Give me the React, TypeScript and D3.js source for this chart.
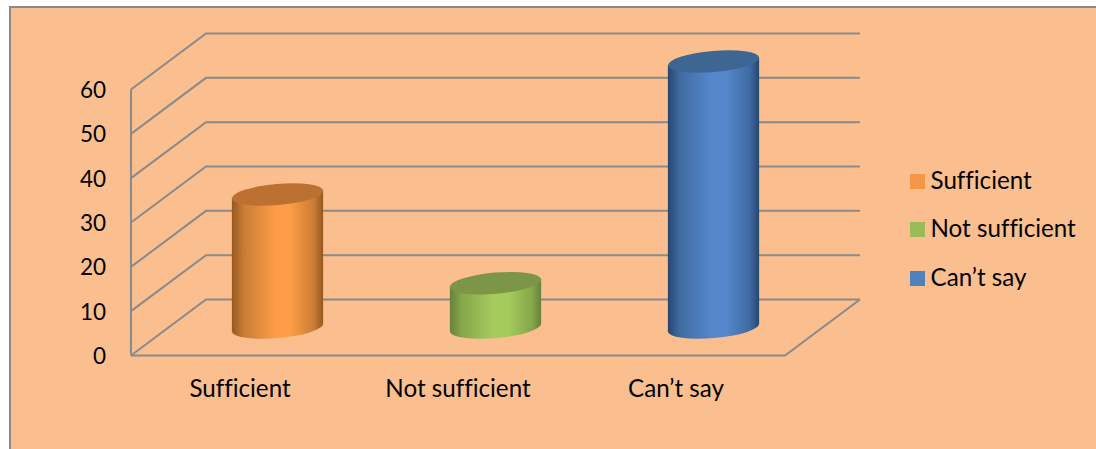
import React from "react";
import * as d3 from "d3";

const categories = ["Sufficient", "Not sufficient", "Can’t say"];
const values = [30, 10, 60];
const yTicks = [0, 10, 20, 30, 40, 50, 60];
const swatchColors = ["#F79646", "#9BBB59", "#4F81BD"];
const bodyEdgeColors = ["#96591F", "#67823A", "#28466F"];
const bodyShoulderColors = ["#C97C36", "#86A64A", "#3F6BA1"];
const bodyMidColors = ["#FD9D47", "#A6CB5D", "#5587CC"];
const capColors = ["#BC7133", "#7C9546", "#3E6692"];

const WIDTH = 1096;
const HEIGHT = 449;
const FONT = "Lato, 'Open Sans', sans-serif";
const GRID = "#8A8A8A";

// Oblique projection: how far the back wall sits from the front plane.
const DEPTH_X = 75;
const DEPTH_Y = 56;

const y = d3.scaleLinear().domain([0, 60]).range([355.5, 89.5]);
const x = d3.scaleBand<string>().domain(categories).range([131, 785]);

const RX = 45.8;
const RY = 10.6;
const TILT = -5;
const tiltRad = (TILT * Math.PI) / 180;

function cylinderBody(cx: number, baseY: number, topY: number) {
  const dx = RX * Math.cos(tiltRad);
  const dy = RX * Math.sin(tiltRad);
  return [
    `M${cx - dx},${topY - dy}`,
    `L${cx + dx},${topY + dy}`,
    `L${cx + dx},${baseY + dy}`,
    `A${RX},${RY} ${TILT} 0 1 ${cx - dx},${baseY - dy}`,
    "Z",
  ].join(" ");
}

export default function App() {
  const wallLine = d3.line();
  const right = x.range()[1];
  const left = x.range()[0];
  return (
    <svg
      width={WIDTH}
      height={HEIGHT}
      style={{ position: "absolute", left: 0, top: 0, background: "#fff", fontVariantLigatures: "none" }}
      fontFamily={FONT}
    >
      <defs>
        {categories.map((c, i) => (
          <linearGradient key={c} id={`body-${i}`} x1="0" x2="1" y1="0" y2="0">
            <stop offset="0" stopColor={bodyEdgeColors[i]} />
            <stop offset="0.13" stopColor={bodyShoulderColors[i]} />
            <stop offset="0.48" stopColor={bodyMidColors[i]} />
            <stop offset="0.64" stopColor={bodyMidColors[i]} />
            <stop offset="0.9" stopColor={bodyShoulderColors[i]} />
            <stop offset="1" stopColor={bodyEdgeColors[i]} />
          </linearGradient>
        ))}
      </defs>

      <rect x={10} y={7} width={WIDTH - 10} height={HEIGHT - 7} fill="#FBBF8F" />
      <path d={`M10,${HEIGHT} V7 H${WIDTH}`} fill="none" stroke="#8A8A8A" strokeWidth={2} />

      {/* Walls and floor */}
      <line x1={left} x2={left} y1={y(0)} y2={y(60)} stroke={GRID} strokeWidth={2} />
      {yTicks.map((t) => (
        <path
          key={t}
          d={
            wallLine([
              [left, y(t)],
              [left + DEPTH_X, y(t) - DEPTH_Y],
              [right + DEPTH_X, y(t) - DEPTH_Y],
            ]) ?? ""
          }
          fill="none"
          stroke={GRID}
          strokeWidth={2}
        />
      ))}
      <path
        d={
          wallLine([
            [left, y(0)],
            [right, y(0)],
            [right + DEPTH_X, y(0) - DEPTH_Y],
          ]) ?? ""
        }
        fill="none"
        stroke={GRID}
        strokeWidth={2}
      />

      {/* Cylinders stand halfway into the depth of the floor */}
      {categories.map((c, i) => {
        const cx = (x(c) ?? 0) + x.bandwidth() / 2 + DEPTH_X / 2;
        const baseY = y(0) - DEPTH_Y / 2;
        const topY = y(values[i]) - DEPTH_Y / 2;
        return (
          <g key={c}>
            <path d={cylinderBody(cx, baseY, topY)} fill={`url(#body-${i})`} />
            <ellipse
              rx={RX}
              ry={RY}
              fill={capColors[i]}
              transform={`translate(${cx},${topY}) rotate(${TILT})`}
            />
          </g>
        );
      })}

      {/* Value axis */}
      {yTicks.map((t) => (
        <text key={t} x={106} y={y(t) + 8.5} textAnchor="end" fontSize={22.5} fill="#000">
          {t}
        </text>
      ))}

      {/* Category axis */}
      {categories.map((c) => (
        <text
          key={c}
          x={(x(c) ?? 0) + x.bandwidth() / 2}
          y={397}
          textAnchor="middle"
          fontSize={24.2}
          fill="#000"
        >
          {c}
        </text>
      ))}

      {/* Legend */}
      {categories.map((c, i) => {
        const rowY = [181.5, 229.5, 278.5][i];
        return (
          <g key={c}>
            <rect x={910} y={rowY - 7.5} width={15} height={15} fill={swatchColors[i]} />
            <text x={930.5} y={rowY + 7.5} fontSize={24.2} fill="#000">
              {c}
            </text>
          </g>
        );
      })}
    </svg>
  );
}
